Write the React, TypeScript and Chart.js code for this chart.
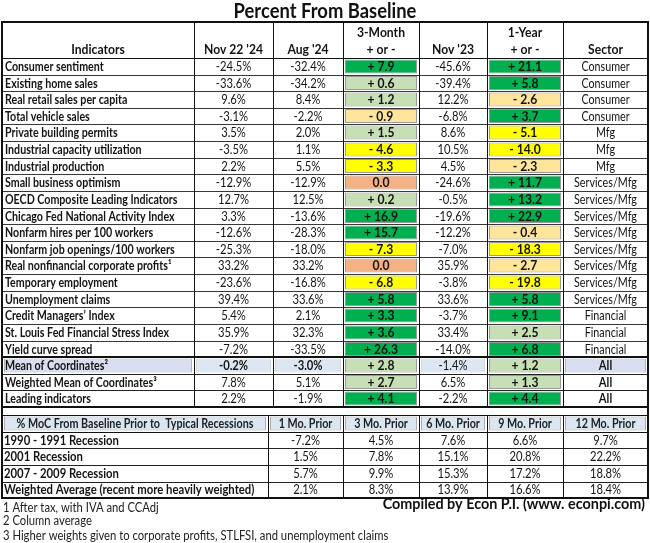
import React, { useEffect, useRef } from "react";
import { Chart, registerables } from "chart.js";

Chart.register(...registerables);

// ---------------- DATA ----------------
const TITLE = "Percent From Baseline";
const CREDIT = "Compiled by Econ P.I. (www. econpi.com)";

const INDICATORS = [
  "Consumer sentiment",
  "Existing home sales",
  "Real retail sales per capita",
  "Total vehicle sales",
  "Private building permits",
  "Industrial capacity utilization",
  "Industrial production",
  "Small business optimism",
  "OECD Composite Leading Indicators",
  "Chicago Fed National Activity Index",
  "Nonfarm hires per 100 workers",
  "Nonfarm job openings/100 workers",
  "Real nonfinancial corporate profits¹",
  "Temporary employment",
  "Unemployment claims",
  "Credit Managers’ Index",
  "St. Louis Fed Financial Stress Index",
  "Yield curve spread",
  "Mean of Coordinates²",
  "Weighted Mean of Coordinates³",
  "Leading indicators",
];

const NOV22_24 = [-24.5, -33.6, 9.6, -3.1, 3.5, -3.5, 2.2, -12.9, 12.7, 3.3, -12.6, -25.3, 33.2, -23.6, 39.4, 5.4, 35.9, -7.2, -0.2, 7.8, 2.2];
const AUG_24 = [-32.4, -34.2, 8.4, -2.2, 2.0, 1.1, 5.5, -12.9, 12.5, -13.6, -28.3, -18.0, 33.2, -16.8, 33.6, 2.1, 32.3, -33.5, -3.0, 5.1, -1.9];
const CHG_3M = [7.9, 0.6, 1.2, -0.9, 1.5, -4.6, -3.3, 0.0, 0.2, 16.9, 15.7, -7.3, 0.0, -6.8, 5.8, 3.3, 3.6, 26.3, 2.8, 2.7, 4.1];
const NOV_23 = [-45.6, -39.4, 12.2, -6.8, 8.6, 10.5, 4.5, -24.6, -0.5, -19.6, -12.2, -7.0, 35.9, -3.8, 33.6, -3.7, 33.4, -14.0, -1.4, 6.5, -2.2];
const CHG_1Y = [21.1, 5.8, -2.6, 3.7, -5.1, -14.0, -2.3, 11.7, 13.2, 22.9, -0.4, -18.3, -2.7, -19.8, 5.8, 9.1, 2.5, 6.8, 1.2, 1.3, 4.4];
const SECTORS = [
  "Consumer", "Consumer", "Consumer", "Consumer",
  "Mfg", "Mfg", "Mfg",
  "Services/Mfg", "Services/Mfg", "Services/Mfg", "Services/Mfg", "Services/Mfg", "Services/Mfg", "Services/Mfg", "Services/Mfg",
  "Financial", "Financial", "Financial",
  "All", "All", "All",
];

const REC_HEADERS = ["% MoC From Baseline Prior to  Typical Recessions", "1 Mo. Prior", "3 Mo. Prior", "6 Mo. Prior", "9 Mo. Prior", "12 Mo. Prior"];
const REC_NAMES = ["1990 - 1991 Recession", "2001 Recession", "2007 - 2009 Recession", "Weighted Average (recent more heavily weighted)"];
const REC_1MO = [-7.2, 1.5, 5.7, 2.1];
const REC_3MO = [4.5, 7.8, 9.9, 8.3];
const REC_6MO = [7.6, 15.1, 15.3, 13.9];
const REC_9MO = [6.6, 20.8, 17.2, 16.6];
const REC_12MO = [9.7, 22.2, 18.8, 18.4];

const FOOTNOTES = [
  "1 After tax, with IVA and CCAdj",
  "2 Column average",
  "3 Higher weights given to corporate profits, STLFSI, and unemployment claims",
];

// ---------------- LAYOUT / STYLE ----------------
const W = 650;
const H = 543;
const COLS = [2, 194, 273, 343, 419, 487, 563, 648];
const TABLE_TOP = 22;
const HEAD_BOT = 58;
const ROW_H = 16.62;
const LOWER_COLS = [2, 268, 343, 419, 487, 563, 648];
const LOWER_TOP = 415;
const LOWER_HEAD_BOT = 432;
const LOWER_ROW_H = 16.5;
const FONT = "Lato, 'Open Sans', sans-serif";
const TEXT = "#141414";
const MEAN_ROW = 18;

const rowTop = (i: number) => Math.round(HEAD_BOT + i * ROW_H);
const rowMid = (i: number) => (rowTop(i) + rowTop(i + 1)) / 2;
const lowerRowTop = (i: number) => LOWER_HEAD_BOT + i * LOWER_ROW_H;

const pct = (v: number) => v.toFixed(1) + "%";
const chg = (v: number) => (v > 0 ? "+ " + v.toFixed(1) : v < 0 ? "- " + Math.abs(v).toFixed(1) : "0.0");
const chgColor = (v: number) => {
  if (v >= 3) return "#00b050";
  if (v > 0) return "#c6dfb4";
  if (v === 0) return "#f4b183";
  if (v > -3) return "#fee59c";
  return "#ffff00";
};

function buildCells() {
  const data: { x: number[]; y: number }[] = [];
  const bg: string[] = [];
  const bc: string[] = [];
  const add = (x0: number, x1: number, y: number, fill: string, border: string) => {
    data.push({ x: [x0 + 2, x1 - 2], y });
    bg.push(fill);
    bc.push(border);
  };
  CHG_3M.forEach((v, i) => add(COLS[3], COLS[4], rowMid(i), chgColor(v), "rgba(70,70,70,0.55)"));
  CHG_1Y.forEach((v, i) => add(COLS[5], COLS[6], rowMid(i), chgColor(v), "rgba(70,70,70,0.55)"));
  // highlighted mean row
  add(COLS[0], COLS[1], rowMid(MEAN_ROW), "#d9dff0", "rgba(90,90,90,0.45)");
  add(COLS[1], COLS[2], rowMid(MEAN_ROW), "#dce7f3", "rgba(120,120,120,0.3)");
  add(COLS[2], COLS[3], rowMid(MEAN_ROW), "#dce7f3", "rgba(120,120,120,0.3)");
  add(COLS[4], COLS[5], rowMid(MEAN_ROW), "#dce7f3", "rgba(120,120,120,0.3)");
  add(COLS[6], COLS[7], rowMid(MEAN_ROW), "#d9dff0", "rgba(90,90,90,0.45)");
  // lower table header
  for (let c = 0; c < REC_HEADERS.length; c++) {
    add(LOWER_COLS[c], LOWER_COLS[c + 1], (LOWER_TOP + LOWER_HEAD_BOT) / 2, "#dce6f1", "rgba(90,90,90,0.5)");
  }
  return { data, bg, bc };
}

function drawText(
  ctx: CanvasRenderingContext2D,
  s: string,
  x: number,
  y: number,
  align: CanvasTextAlign,
  font: string,
  color = TEXT,
  sx = 0.9
) {
  ctx.save();
  ctx.font = font;
  ctx.fillStyle = color;
  ctx.textBaseline = "middle";
  ctx.textAlign = align;
  ctx.translate(x, y);
  ctx.scale(sx, 1);
  ctx.fillText(s, 0, 0);
  ctx.restore();
}

const tablePlugin = {
  id: "tablePlugin",
  beforeDatasetsDraw(chart: any) {
    const ctx: CanvasRenderingContext2D = chart.ctx;
    const xs = chart.scales.x;
    const ys = chart.scales.y;
    const X = (v: number) => xs.getPixelForValue(v);
    const Y = (v: number) => ys.getPixelForValue(v);
    ctx.save();
    ctx.fillStyle = "#ffffff";
    ctx.fillRect(0, 0, chart.width, chart.height);

    const hline = (x0: number, x1: number, y: number, w: number, color: string) => {
      ctx.beginPath();
      ctx.lineWidth = w;
      ctx.strokeStyle = color;
      const yy = w % 2 === 1 ? Math.round(Y(y)) + 0.5 : Math.round(Y(y));
      ctx.moveTo(X(x0), yy);
      ctx.lineTo(X(x1), yy);
      ctx.stroke();
    };
    const vline = (x: number, y0: number, y1: number, w: number, color: string) => {
      ctx.beginPath();
      ctx.lineWidth = w;
      ctx.strokeStyle = color;
      const xx = w % 2 === 1 ? Math.round(X(x)) + 0.5 : Math.round(X(x));
      ctx.moveTo(xx, Y(y0));
      ctx.lineTo(xx, Y(y1));
      ctx.stroke();
    };

    const L = COLS[0];
    const R = COLS[COLS.length - 1];
    const upperBottom = rowTop(INDICATORS.length);
    for (let i = 1; i < INDICATORS.length; i++) {
      if (i === MEAN_ROW) continue;
      hline(L, R, rowTop(i), 1, i > MEAN_ROW ? "#222" : "#383838");
    }
    hline(L, R, HEAD_BOT, 1, "#111");
    hline(L, R, rowTop(MEAN_ROW), 2, "#111");
    hline(L, R, upperBottom, 2, "#111");
    for (let c = 1; c < COLS.length - 1; c++) vline(COLS[c], TABLE_TOP, upperBottom, 1, "#111");

    hline(L, R, LOWER_TOP, 1, "#111");
    hline(L, R, LOWER_HEAD_BOT, 1, "#111");
    for (let i = 1; i < REC_NAMES.length; i++) hline(L, R, lowerRowTop(i), 1, "#222");
    for (let c = 1; c < LOWER_COLS.length - 1; c++) vline(LOWER_COLS[c], LOWER_TOP, lowerRowTop(REC_NAMES.length), 1, "#111");

    const bottom = lowerRowTop(REC_NAMES.length);
    hline(L - 1, R + 1, TABLE_TOP, 2, "#111");
    hline(L - 1, R + 1, bottom, 2, "#111");
    vline(L, TABLE_TOP, bottom, 2, "#111");
    vline(R, TABLE_TOP, bottom, 2, "#111");
    ctx.restore();
  },
  afterDatasetsDraw(chart: any) {
    const ctx: CanvasRenderingContext2D = chart.ctx;
    const xs = chart.scales.x;
    const ys = chart.scales.y;
    const X = (v: number) => xs.getPixelForValue(v);
    const Y = (v: number) => ys.getPixelForValue(v);
    const mid = (c: number, cols = COLS) => X((cols[c] + cols[c + 1]) / 2);

    const bold = (s: number) => `bold ${s}px ${FONT}`;
    const reg = (s: number) => `${s}px ${FONT}`;

    drawText(ctx, TITLE, X(325), Y(12), "center", bold(20), "#111", 0.92);

    const hy = Y(50);
    drawText(ctx, "Indicators", mid(0), hy, "center", bold(13.5));
    drawText(ctx, "Nov 22 '24", mid(1), hy, "center", bold(13.5));
    drawText(ctx, "Aug '24", mid(2), hy, "center", bold(13.5));
    drawText(ctx, "3-Month", mid(3), Y(33), "center", bold(13.5));
    drawText(ctx, "+ or -", mid(3), hy, "center", bold(13.5));
    drawText(ctx, "Nov '23", mid(4), hy, "center", bold(13.5));
    drawText(ctx, "1-Year", mid(5), Y(33), "center", bold(13.5));
    drawText(ctx, "+ or -", mid(5), hy, "center", bold(13.5));
    drawText(ctx, "Sector", mid(6), hy, "center", bold(13.5));

    INDICATORS.forEach((name, i) => {
      const y = Y(rowMid(i) + 0.5);
      const isMean = i === MEAN_ROW;
      drawText(ctx, name, X(5), y, "left", bold(13), TEXT, 0.82);
      drawText(ctx, pct(NOV22_24[i]), mid(1), y, "center", isMean ? bold(12.5) : reg(12.5));
      drawText(ctx, pct(AUG_24[i]), mid(2), y, "center", isMean ? bold(12.5) : reg(12.5));
      drawText(ctx, chg(CHG_3M[i]), mid(3), y, "center", bold(13.5));
      drawText(ctx, pct(NOV_23[i]), mid(4), y, "center", reg(12.5));
      drawText(ctx, chg(CHG_1Y[i]), mid(5), y, "center", bold(13.5));
      const sec = SECTORS[i];
      drawText(ctx, sec, mid(6), y, "center", sec === "All" ? bold(13) : reg(12.5), TEXT, 0.86);
    });

    const lhy = Y((LOWER_TOP + LOWER_HEAD_BOT) / 2 + 0.5);
    REC_HEADERS.forEach((h, c) => drawText(ctx, h, mid(c, LOWER_COLS), lhy, "center", bold(12.5), "#222", 0.86));
    const recCols = [REC_1MO, REC_3MO, REC_6MO, REC_9MO, REC_12MO];
    REC_NAMES.forEach((n, i) => {
      const y = Y((lowerRowTop(i) + lowerRowTop(i + 1)) / 2 + 0.5);
      drawText(ctx, n, X(4), y, "left", bold(13), TEXT, 0.87);
      recCols.forEach((col, c) => drawText(ctx, pct(col[i]), mid(c + 1, LOWER_COLS), y, "center", reg(12.5)));
    });

    drawText(ctx, CREDIT, X(645), Y(504), "right", bold(16), "#111", 0.9);
    const fy = [508, 521, 536];
    FOOTNOTES.forEach((f, i) => drawText(ctx, f, X(3), Y(fy[i]), "left", reg(12.5), "#222"));
  },
};

export default function App() {
  const canvasRef = useRef<HTMLCanvasElement | null>(null);

  useEffect(() => {
    const canvas = canvasRef.current;
    if (!canvas) return;
    const { data, bg, bc } = buildCells();
    const chart = new Chart(canvas, {
      type: "bar",
      data: {
        datasets: [
          {
            data: data as any,
            backgroundColor: bg,
            borderColor: bc,
            borderWidth: 1,
            borderSkipped: false,
            barThickness: 14,
            grouped: false,
            inflateAmount: 0,
          } as any,
        ],
      },
      options: {
        indexAxis: "y",
        responsive: false,
        maintainAspectRatio: false,
        devicePixelRatio: 1,
        animation: false,
        events: [],
        layout: { padding: 0 },
        scales: {
          x: { type: "linear", min: 0, max: W, display: false, offset: false, grace: 0 },
          y: { type: "linear", min: 0, max: H, reverse: true, display: false, offset: false, grace: 0 },
        },
        plugins: {
          legend: { display: false },
          tooltip: { enabled: false },
          title: { display: false },
        },
      },
      plugins: [tablePlugin],
    });
    return () => chart.destroy();
  }, []);

  return (
    <div style={{ position: "absolute", left: 0, top: 0, width: W, height: H, background: "#fff" }}>
      <canvas ref={canvasRef} width={W} height={H} style={{ display: "block", width: W, height: H }} />
    </div>
  );
}
